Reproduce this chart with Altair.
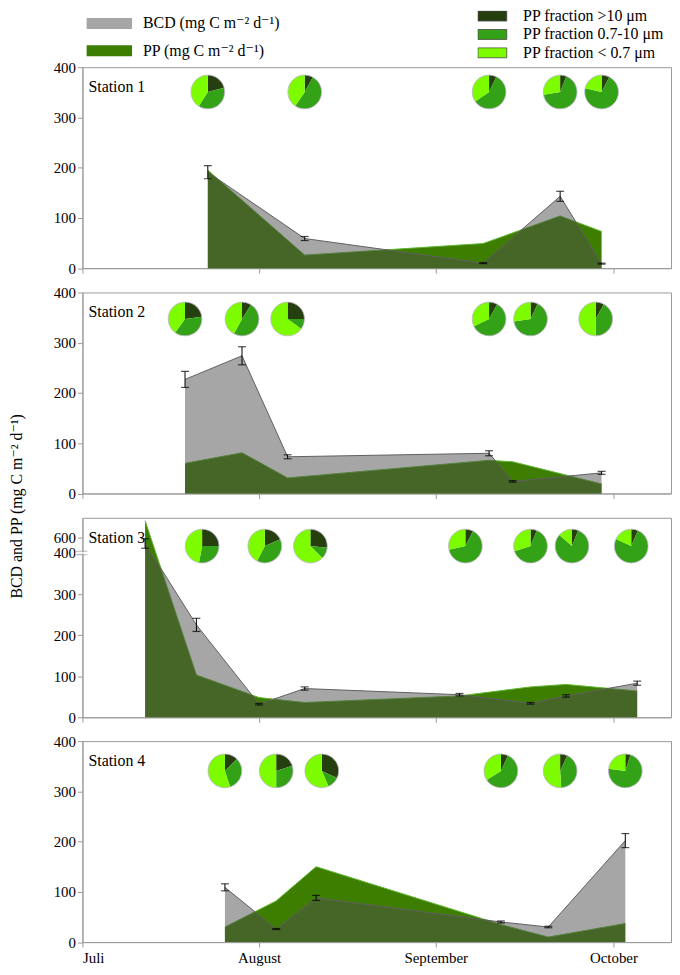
import math
import altair as alt
import pandas as pd

# ---------------- data ----------------
STATIONS = ["Station 1", "Station 2", "Station 3", "Station 4"]
MONTH_DAYS = [0, 31, 62, 92]
MONTH_LABELS = ["Juli", "August", "September", "October"]
BCD_LABEL = "BCD (mg C m⁻² d⁻¹)"
PP_LABEL = "PP (mg C m⁻² d⁻¹)"
FRACTIONS = ["PP fraction >10 μm", "PP fraction 0.7-10 μm", "PP fraction < 0.7 μm"]
Y_TITLE = "BCD and  PP (mg C m⁻² d⁻¹)"
AXIS_BREAK = [400]  # station 3 axis is broken above 400

# sampling dates, BCD (+/- error) and PP per station
s1_dates = ["2012-07-23", "2012-08-09", "2012-09-09", "2012-09-22", "2012-09-29"]
s1_bcd = [191, 59, 10, 143, 9]
s1_err = [13, 4, 1, 10, 1]
s1_pp = [195, 26, 49, 104, 73]

s2_dates = ["2012-07-19", "2012-07-29", "2012-08-06", "2012-09-10", "2012-09-14", "2012-09-29"]
s2_bcd = [227, 274, 73, 80, 24, 41]
s2_err = [16, 18, 4, 5, 1.5, 3]
s2_pp = [60, 81, 31, 66, 63, 19]

s3_dates = ["2012-07-12", "2012-07-21", "2012-08-01", "2012-08-09", "2012-09-05",
            "2012-09-17", "2012-09-23", "2012-10-05"]
s3_bcd = [520, 225, 32, 70, 55, 34, 52, 83]
s3_err = [60, 16, 2, 4, 3, 2, 3, 5]
s3_pp = [685, 103, 48, 36, 52, 74, 80, 64]

s4_dates = ["2012-07-26", "2012-08-04", "2012-08-11", "2012-09-12", "2012-09-20", "2012-10-03"]
s4_bcd = [109, 26, 88, 40, 30, 202]
s4_err = [7, 1, 5, 2, 1.5, 14]
s4_pp = [30, 82, 150, 35, 10, 37]

# size-fraction pies (% of PP: >10, 0.7-10, <0.7 µm)
p1_dates = ["2012-07-23", "2012-08-09", "2012-09-10", "2012-09-22", "2012-09-29"]
p1_big = [21, 8, 7, 6, 7.5]
p1_mid = [38, 51.5, 58.5, 66.5, 71]
p1_small = [41, 40.5, 34.5, 27.5, 21.5]

p2_dates = ["2012-07-19", "2012-07-29", "2012-08-06", "2012-09-10", "2012-09-17", "2012-09-28"]
p2_big = [23, 9, 25, 8, 7, 8]
p2_mid = [37, 49, 10, 60, 65.5, 42]
p2_small = [40, 42, 65, 32, 27.5, 50]

p3_dates = ["2012-07-22", "2012-08-02", "2012-08-10", "2012-09-06", "2012-09-17",
            "2012-09-24", "2012-10-04"]
p3_big = [25, 18.5, 26.5, 7.5, 6, 6, 6.5]
p3_mid = [28, 39, 11, 64, 64, 80.5, 75.5]
p3_small = [47, 42.5, 62.5, 28.5, 30, 13.5, 18]

p4_dates = ["2012-07-26", "2012-08-04", "2012-08-12", "2012-09-12", "2012-09-22", "2012-10-03"]
p4_big = [12.5, 20, 32, 7, 7, 5]
p4_mid = [32.5, 30, 11.5, 59, 42, 72]
p4_small = [55, 50, 56.5, 34, 51, 23]

ORIGIN = pd.Timestamp("2012-07-01")


def to_days(dates):
    return [(pd.Timestamp(d) - ORIGIN).days for d in dates]


sample_sets = [
    (s1_dates, s1_bcd, s1_err, s1_pp),
    (s2_dates, s2_bcd, s2_err, s2_pp),
    (s3_dates, s3_bcd, s3_err, s3_pp),
    (s4_dates, s4_bcd, s4_err, s4_pp),
]
samples = pd.concat(
    [
        pd.DataFrame({"station": STATIONS[i], "day": to_days(d), "bcd": b, "err": e, "pp": p})
        for i, (d, b, e, p) in enumerate(sample_sets)
    ],
    ignore_index=True,
)

pie_sets = [
    (p1_dates, p1_big, p1_mid, p1_small),
    (p2_dates, p2_big, p2_mid, p2_small),
    (p3_dates, p3_big, p3_mid, p3_small),
    (p4_dates, p4_big, p4_mid, p4_small),
]
pie_rows = []
for i, (d, big, mid, small) in enumerate(pie_sets):
    for k, day in enumerate(to_days(d)):
        for order, (frac, vals) in enumerate(zip(FRACTIONS, (big, mid, small))):
            pie_rows.append({"station": STATIONS[i], "pie": k, "day": day,
                             "fraction": frac, "order": order, "share": vals[k]})
pies_df = pd.DataFrame(pie_rows)
labels_df = pd.DataFrame({"station": STATIONS})
break_df = pd.DataFrame({"value": AXIS_BREAK})

# ---------------- styling ----------------
FONT = "Liberation Serif, Tinos, Times New Roman, DejaVu Serif, serif"
GREY_AXIS = "#9a9a9a"
PP_COLOR = "#3d7e00"
BCD_OVERLAY = "#4d4d4d"
FRACTION_COLORS = ["#263f0e", "#34a216", "#7dfc00"]

XSCALE = alt.Scale(domain=[0, 31, 62, 92, 101.7], range=[0, 178, 356, 535, 593])
WIDTH = 593
HEIGHTS = [202.5, 202.5, 201, 202.5]
PIE_Y = [25, 26.7, 28.5, 30]
PIE_R = 17

label_expr = " : ".join(
    f"datum.value == {d} ? '{m}'" for d, m in zip(MONTH_DAYS, MONTH_LABELS)
) + " : ''"


def panel(i):
    st = STATIONS[i]
    h = HEIGHTS[i]
    last = i == len(STATIONS) - 1
    if i == 2:
        yscale = alt.Scale(domain=[0, 400, 600, 700], range=[h, 35.5, 19.5, 0])
        yvals = [0, 100, 200, 300, 400, 600]
    else:
        yscale = alt.Scale(domain=[0, 400], nice=False)
        yvals = [0, 100, 200, 300, 400]

    yaxis_kw = dict(values=yvals, tickSize=5, labelPadding=2, domainColor=GREY_AXIS,
                    tickColor=GREY_AXIS, labelFont=FONT, labelFontSize=15,
                    labelColor="black", grid=False, title=None)
    if i == 1:
        yaxis_kw.update(title=Y_TITLE, titleFont=FONT, titleFontSize=16,
                        titleFontWeight="normal", titleColor="black",
                        titleX=-61, titleY=215, titleAngle=270,
                        titleAlign="center", titleBaseline="alphabetic")
    yaxis = alt.Axis(**yaxis_kw)
    xaxis = alt.Axis(values=MONTH_DAYS, tickSize=5, grid=False, title=None,
                     domainColor=GREY_AXIS, tickColor=GREY_AXIS,
                     labels=last, labelExpr=label_expr, labelFont=FONT,
                     labelFontSize=15, labelColor="black", labelPadding=4)
    X = alt.X("day:Q", scale=XSCALE, axis=xaxis, stack=None)

    def Y(field):
        return alt.Y(field, scale=yscale, axis=yaxis, stack=None)

    base = alt.Chart(samples).transform_filter(alt.datum.station == st)

    if i == 0:
        area_legend = alt.Legend(
            orient="none", legendX=4, legendY=-50, title=None,
            symbolType="M-1,-0.24H1V0.24H-1Z", symbolSize=2116,
            symbolStrokeWidth=0, labelFont=FONT, labelFontSize=16,
            labelColor="black", labelLimit=400, labelOffset=11,
            clipHeight=12, rowPadding=11.5, symbolOpacity=1)
        frac_legend = alt.Legend(
            orient="none", legendX=398, legendY=-57, title=None,
            symbolType="M-1,-0.345H1V0.345H-1Z", symbolSize=841,
            symbolStrokeColor="#444", symbolStrokeWidth=0.8,
            labelFont=FONT, labelFontSize=16, labelColor="black",
            labelLimit=400, labelOffset=16, clipHeight=11, rowPadding=1.5,
            symbolOpacity=1)
    else:
        area_legend = None
        frac_legend = None

    color_enc = alt.Color(
        "series:N",
        scale=alt.Scale(domain=[BCD_LABEL, PP_LABEL], range=["#a6a6a6", PP_COLOR]),
        legend=area_legend,
    )

    pp_area = base.transform_calculate(series=f"'{PP_LABEL}'").mark_area(opacity=1).encode(
        x=X, y=Y("pp:Q"), color=color_enc)
    pp_line = base.mark_line(color="#5fb52c", strokeWidth=1).encode(x=X, y=Y("pp:Q"))
    bcd_area = base.mark_area(color=BCD_OVERLAY, opacity=0.5).encode(x=X, y=Y("bcd:Q"))
    bcd_line = base.mark_line(color="#606060", strokeWidth=1).encode(x=X, y=Y("bcd:Q"))

    eb = base.transform_calculate(lo="datum.bcd - datum.err", hi="datum.bcd + datum.err")
    err_rule = eb.mark_rule(color="black", strokeWidth=1).encode(
        x=X, y=Y("lo:Q"), y2="hi:Q")
    cap_lo = eb.mark_tick(color="black", orient="horizontal", size=8, thickness=1.2).encode(
        x=X, y=Y("lo:Q"))
    cap_hi = eb.mark_tick(color="black", orient="horizontal", size=8, thickness=1.2).encode(
        x=X, y=Y("hi:Q"))

    pie_base = alt.Chart(pies_df).transform_filter(alt.datum.station == st)
    pies = pie_base.transform_stack(
        stack="share", groupby=["station", "pie"], as_=["t0", "t1"],
        sort=[alt.SortField("order", order="ascending")], offset="normalize",
    ).mark_arc(radius=PIE_R).encode(
        x=X,
        y=alt.value(PIE_Y[i]),
        theta=alt.Theta("t0:Q", scale=alt.Scale(domain=[0, 1], range=[0, 2 * math.pi]), stack=None),
        theta2="t1:Q",
        fill=alt.Fill("fraction:N", scale=alt.Scale(domain=FRACTIONS, range=FRACTION_COLORS),
                      legend=frac_legend),
    )
    rims = pie_base.transform_filter(alt.datum.order == 0).mark_point(
        shape="circle", filled=False, size=(2 * PIE_R) ** 2, color="#bdb5c8",
        strokeWidth=0.8, opacity=1).encode(x=X, y=alt.value(PIE_Y[i]))

    label = alt.Chart(labels_df).transform_filter(alt.datum.station == st).mark_text(
        align="left", baseline="middle", font=FONT, fontSize=16, color="black"
    ).encode(text="station:N", x=alt.value(6), y=alt.value(20))

    layers = [pp_area, pp_line, bcd_area, bcd_line, err_rule, cap_lo, cap_hi, pies, rims, label]

    if i == 2:
        brk = alt.Chart(break_df)
        gap = brk.mark_tick(color="white", orient="horizontal", size=12, thickness=2.5).encode(
            x=alt.value(-1), y=Y("value:Q"))
        line_a = brk.mark_tick(color=GREY_AXIS, orient="horizontal", size=12, thickness=1,
                               yOffset=-1.8).encode(x=alt.value(-1), y=Y("value:Q"))
        line_b = brk.mark_tick(color=GREY_AXIS, orient="horizontal", size=12, thickness=1,
                               yOffset=1.8).encode(x=alt.value(-1), y=Y("value:Q"))
        layers += [gap, line_a, line_b]

    return alt.layer(*layers).properties(width=WIDTH, height=h)


chart = alt.vconcat(*[panel(i) for i in range(4)], spacing=24, bounds="flush").resolve_scale(
    x="independent", y="independent", color="independent", fill="independent"
).resolve_legend(color="independent", fill="independent").properties(
    padding={"left": 0, "top": -2, "right": 0, "bottom": 0}
).configure_view(stroke=GREY_AXIS, strokeWidth=1)

chart.save("out.html", embed_options={"renderer": "svg", "actions": False})
